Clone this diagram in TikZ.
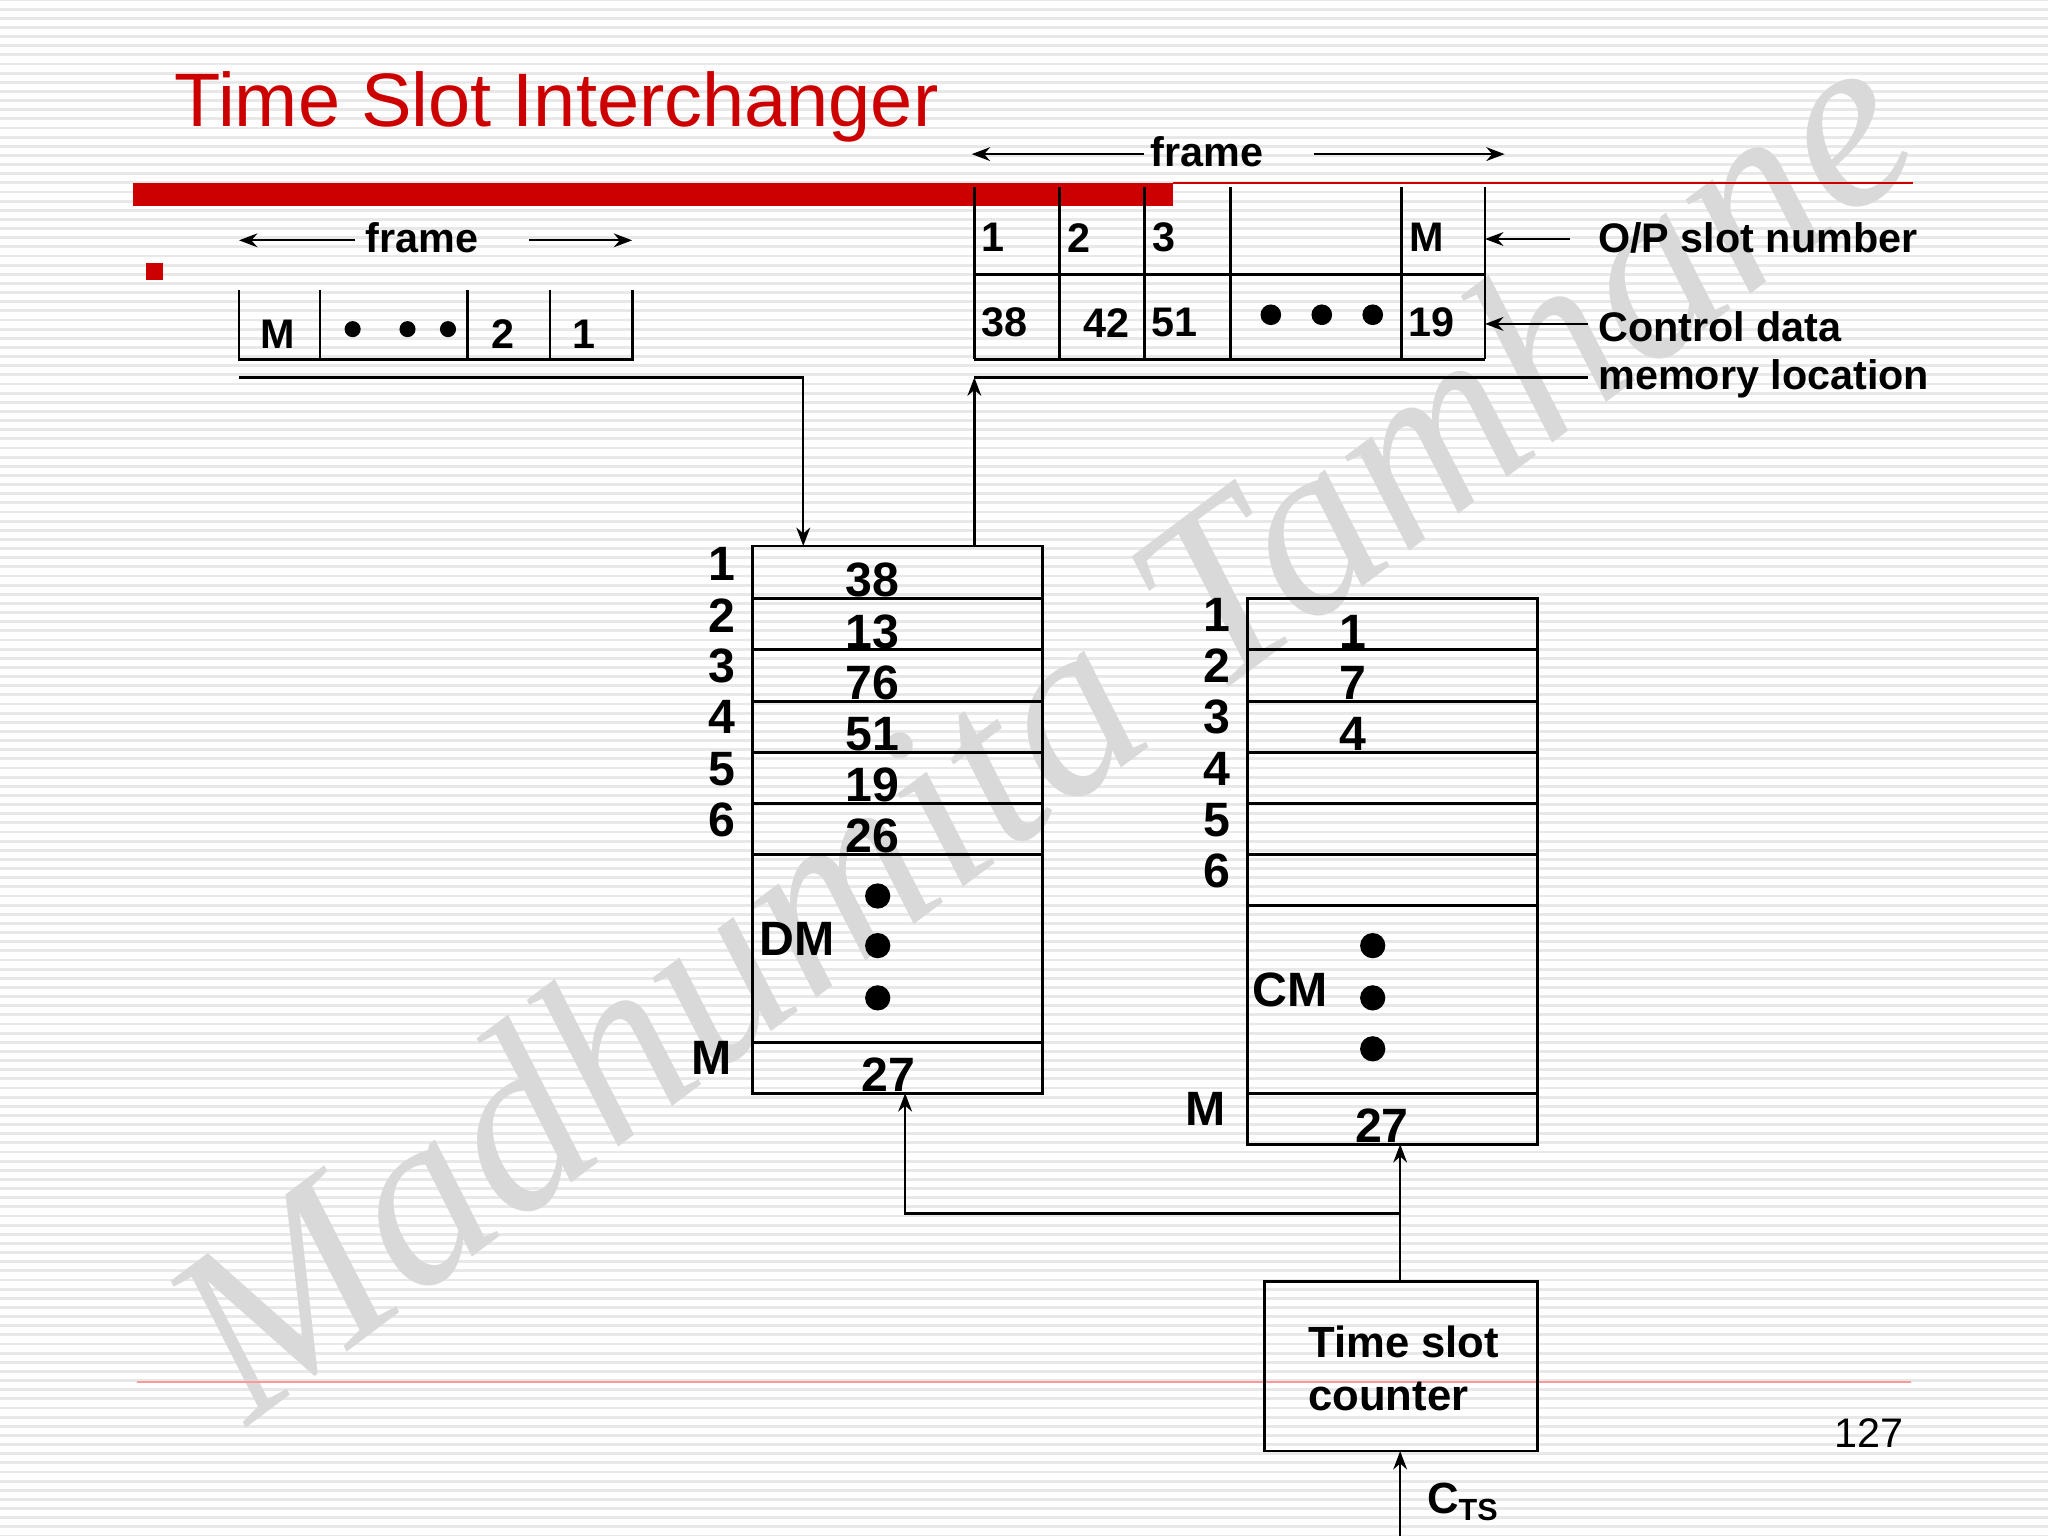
\documentclass[tikz,border=0pt]{standalone}
\usepackage{fontspec}
\setmainfont{Liberation Sans}
\newfontfamily\wmfont{Liberation Serif}
\usetikzlibrary{arrows.meta}
\begin{document}
\begin{tikzpicture}[x=0.01cm,y=-0.01cm,
  lbl/.style={font=\fontsize{9}{11}\selectfont\bfseries,inner sep=0pt},
  big/.style={font=\fontsize{10.5}{12}\selectfont\bfseries,inner sep=0pt},
  arr/.style={-{Stealth[length=4pt,width=3pt]},line width=0.5pt},
  ln/.style={line width=0.6pt},
  dot/.style={circle,fill=black,inner sep=0pt,minimum size=4.5pt}]
\useasboundingbox (0,0) rectangle (1568,1176);
\fill[white] (0,0) rectangle (1568,1176);
\foreach \i in {0,...,168} \draw[gray!18,line width=0.6pt] (0,\i*7) -- (1568,\i*7);
% watermark
\node[rotate=37,text=gray!30,font=\fontsize{54}{56}\selectfont\wmfont\itshape] (wm) at (795,555) {Madhumita Tamhane};
% title and rules
\node[anchor=west,text=red!80!black,font=\fontsize{16.5}{18}\selectfont,inner sep=0pt] (title) at (133,82) {Time Slot Interchanger};
\fill[red!80!black] (102,140) rectangle (898,158);
\draw[red!80!black,line width=0.5pt] (898,140) -- (1465,140);
\draw[red!40,line width=0.4pt] (105,1058) -- (1463,1058);
\fill[red!80!black] (112,201) rectangle (125,214);
\node[font=\fontsize{9}{10}\selectfont,inner sep=0pt] (pg) at (1431,1097) {127};
% left frame
\draw[ln] (183,222) -- (183,275) -- (484,275) -- (484,222);
\foreach \x in {245,358,421} \draw[ln] (\x,222) -- (\x,275);
\node[lbl] (lM) at (213,256) {M};
\foreach \x in {270,312,343} \node[dot,minimum size=3.5pt] at (\x,252) {};
\node[lbl] (l2) at (385,256) {2};
\node[lbl] (l1) at (447,256) {1};
\node[lbl] (lfr) at (323,182) {frame};
\coordinate (lfa) at (272,184); \coordinate (lfb) at (183,184);
\coordinate (lfc) at (405,184); \coordinate (lfd) at (484,184);
\draw[arr] (lfa) -- (lfb); \draw[arr] (lfc) -- (lfd);
% top right table
\foreach \x in {746,811,876,942,1073,1137} \draw[ln] (\x,143) -- (\x,275);
\draw[ln] (746,210) -- (1137,210); \draw[ln] (746,275) -- (1137,275);
\node[lbl] (t1) at (760,182) {1};
\node[lbl] (t2) at (826,182) {2};
\node[lbl] (t3) at (891,182) {3};
\node[lbl] (tM) at (1092,182) {M};
\node[lbl] (b1) at (769,247) {38};
\node[lbl] (b2) at (847,247) {42};
\node[lbl] (b3) at (899,247) {51};
\foreach \x in {973,1012,1051} \node[dot] at (\x,241) {};
\node[lbl] (b5) at (1096,247) {19};
\node[lbl] (rfr) at (924,116) {frame};
\coordinate (rfa) at (876,118); \coordinate (rfb) at (744,118);
\coordinate (rfc) at (1006,118); \coordinate (rfd) at (1152,118);
\draw[arr] (rfa) -- (rfb); \draw[arr] (rfc) -- (rfd);
\node[lbl,anchor=west] (op) at (1223,182) {O/P slot number};
\node[lbl,anchor=north west,align=left,font=\fontsize{9}{10.5}\selectfont\bfseries] (cd) at (1223,238) {Control data\\memory location};
\coordinate (opa) at (1202,183); \coordinate (opb) at (1137,183);
\coordinate (cda) at (1216,248); \coordinate (cdb) at (1137,248);
\draw[arr] (opa) -- (opb); \draw[arr] (cda) -- (cdb);
% DM
\draw[ln] (576,418) rectangle (798,837);
\foreach \y in {458,497,537,576,615,654,798} \draw[ln] (576,\y) -- (798,\y);
\foreach \n/\y in {1/432,2/471,3/510,4/549,5/589,6/628} \node[big] at (553,\y) {\n};
\node[big] (dmM) at (545,810) {M};
\foreach \v/\y in {38/444,13/484,76/523,51/562,19/601,26/640} \node[big] at (668,\y) {\v};
\foreach \y in {686,724,764} \node[dot,minimum size=5.5pt] at (672,\y) {};
\node[big] (dml) at (610,719) {DM};
\node[big] (dm27) at (680,823) {27};
% CM
\draw[ln] (955,458) rectangle (1177,876);
\foreach \y in {497,537,576,615,654,693,837} \draw[ln] (955,\y) -- (1177,\y);
\foreach \n/\y in {1/471,2/510,3/549,4/589,5/628,6/667} \node[big] at (932,\y) {\n};
\node[big] (cmM) at (923,849) {M};
\foreach \v/\y in {1/484,7/523,4/562} \node[big] at (1036,\y) {\v};
\foreach \y in {724,764,803} \node[dot,minimum size=5.5pt] at (1051,\y) {};
\node[big] (cml) at (988,758) {CM};
\node[big] (cm27) at (1058,862) {27};
% counter
\draw[ln] (968,981) rectangle (1177,1111);
\node[big,anchor=west,align=left,font=\fontsize{9.5}{11.5}\selectfont\bfseries] (tsc) at (1001,1048) {Time slot\\counter};
\node[big,anchor=west,font=\fontsize{9.5}{11}\selectfont\bfseries] (cts) at (1092,1150) {C\textsubscript{TS}};
% connectors
\coordinate (in0) at (183,289); \coordinate (in1) at (615,289); \coordinate (in2) at (615,418);
\draw[arr] (in0) -- (in1) -- (in2);
\coordinate (o0) at (746,418); \coordinate (o1) at (746,289); \coordinate (o2) at (1216,289);
\draw[arr] (o0) -- (o1);
\draw[line width=0.5pt] (o1) -- (o2);
\coordinate (c0) at (1072,981); \coordinate (c1) at (1072,876);
\coordinate (c2) at (1072,929); \coordinate (c3) at (693,929); \coordinate (c4) at (693,837);
\draw[arr] (c0) -- (c1);
\draw[arr] (c2) -- (c3) -- (c4);
\coordinate (k0) at (1072,1176); \coordinate (k1) at (1072,1111);
\draw[arr] (k0) -- (k1);
\end{tikzpicture}
\end{document}
